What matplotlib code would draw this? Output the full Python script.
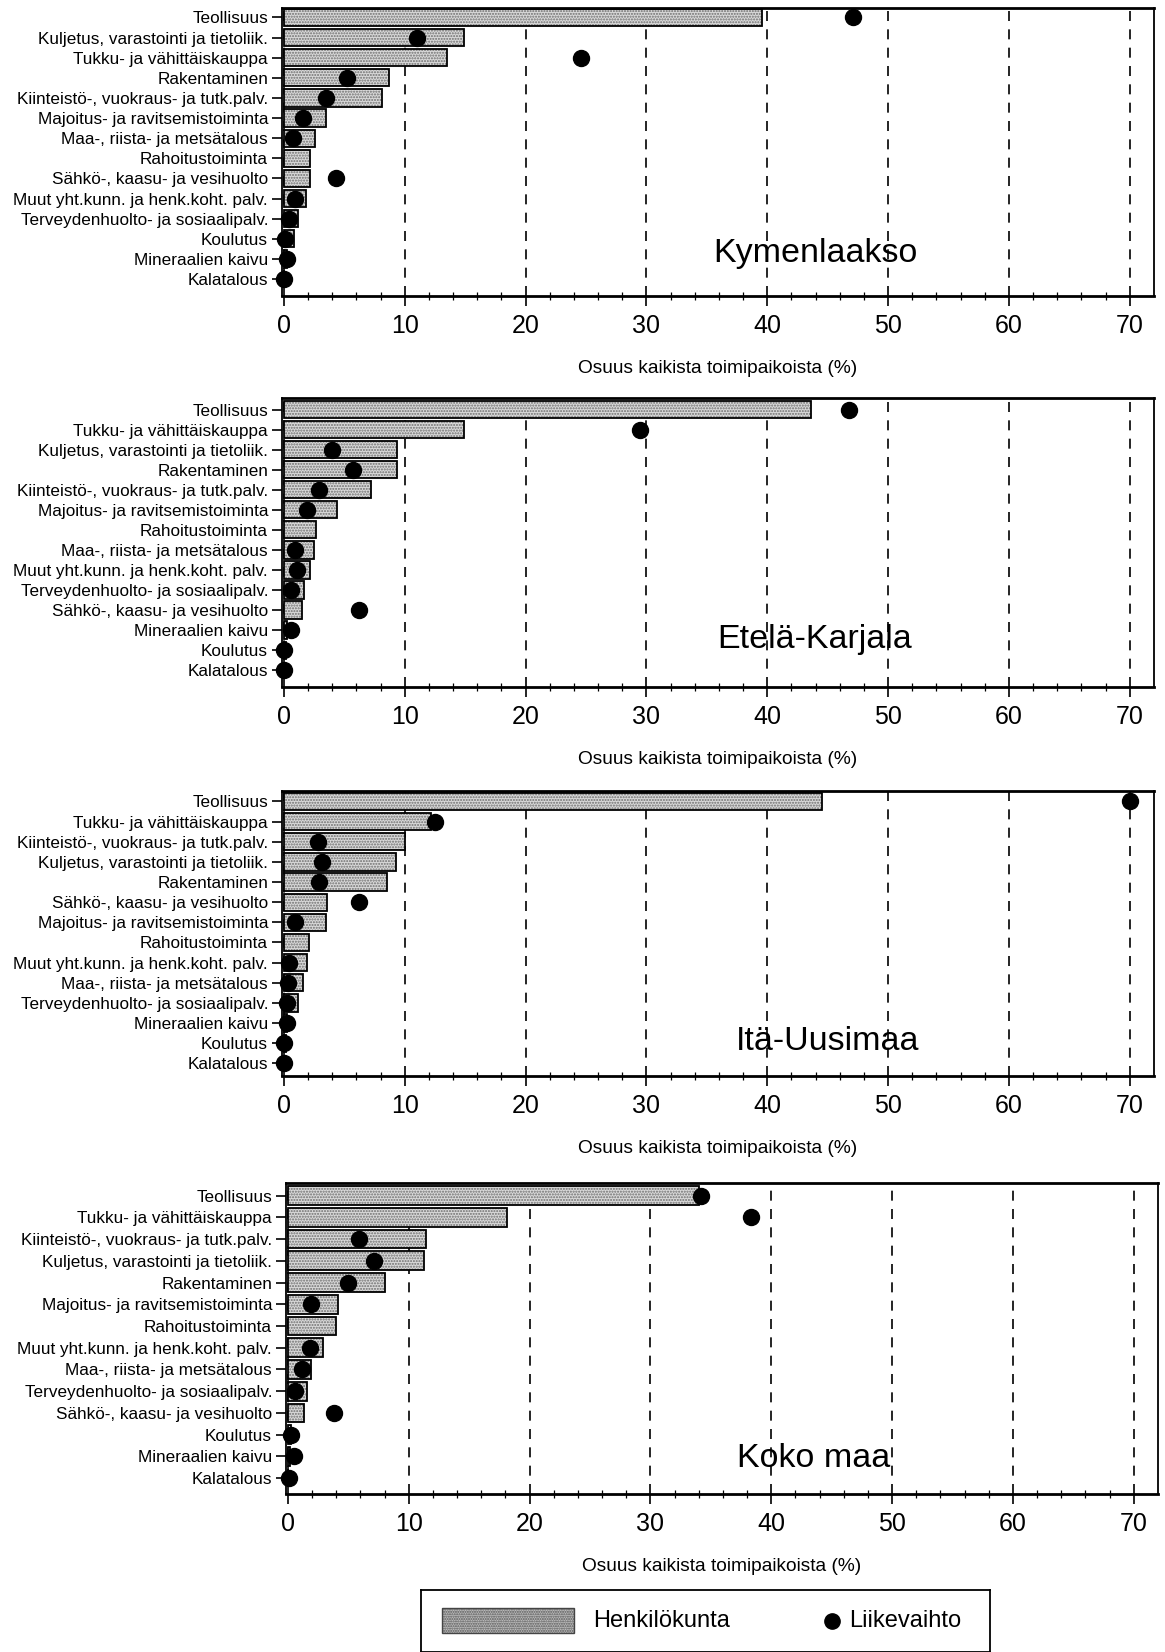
import matplotlib
matplotlib.use("Agg")
import matplotlib.pyplot as plt
import numpy as np
from matplotlib.patches import Rectangle

plt.rcParams['font.family'] = ['Liberation Sans', 'DejaVu Sans']

# --- data: share of all establishments (%) ---
# Henkilokunta = bar, Liikevaihto = dot (nan = not shown)
kymen_cats = ["Teollisuus", "Kuljetus, varastointi ja tietoliik.", "Tukku- ja vähittäiskauppa",
              "Rakentaminen", "Kiinteistö-, vuokraus- ja tutk.palv.", "Majoitus- ja ravitsemistoiminta",
              "Maa-, riista- ja metsätalous", "Rahoitustoiminta", "Sähkö-, kaasu- ja vesihuolto",
              "Muut yht.kunn. ja henk.koht. palv.", "Terveydenhuolto- ja sosiaalipalv.",
              "Koulutus", "Mineraalien kaivu", "Kalatalous"]
kymen_staff = [39.6, 14.9, 13.5, 8.7, 8.1, 3.5, 2.6, 2.2, 2.2, 1.8, 1.2, 0.85, 0.3, 0.05]
kymen_turn = [47.1, 11.0, 24.6, 5.2, 3.5, 1.6, 0.8, np.nan, 4.3, 0.9, 0.4, 0.1, 0.25, 0.05]

ekarj_cats = ["Teollisuus", "Tukku- ja vähittäiskauppa", "Kuljetus, varastointi ja tietoliik.",
              "Rakentaminen", "Kiinteistö-, vuokraus- ja tutk.palv.", "Majoitus- ja ravitsemistoiminta",
              "Rahoitustoiminta", "Maa-, riista- ja metsätalous", "Muut yht.kunn. ja henk.koht. palv.",
              "Terveydenhuolto- ja sosiaalipalv.", "Sähkö-, kaasu- ja vesihuolto",
              "Mineraalien kaivu", "Koulutus", "Kalatalous"]
ekarj_staff = [43.6, 14.9, 9.4, 9.4, 7.2, 4.4, 2.7, 2.5, 2.2, 1.65, 1.5, 0.3, 0.2, 0.05]
ekarj_turn = [46.8, 29.5, 4.0, 5.7, 2.9, 1.9, np.nan, 0.9, 1.05, 0.6, 6.2, 0.6, 0.05, 0.05]

itau_cats = ["Teollisuus", "Tukku- ja vähittäiskauppa", "Kiinteistö-, vuokraus- ja tutk.palv.",
             "Kuljetus, varastointi ja tietoliik.", "Rakentaminen", "Sähkö-, kaasu- ja vesihuolto",
             "Majoitus- ja ravitsemistoiminta", "Rahoitustoiminta", "Muut yht.kunn. ja henk.koht. palv.",
             "Maa-, riista- ja metsätalous", "Terveydenhuolto- ja sosiaalipalv.",
             "Mineraalien kaivu", "Koulutus", "Kalatalous"]
itau_staff = [44.5, 12.2, 10.0, 9.25, 8.5, 3.55, 3.5, 2.1, 1.9, 1.6, 1.2, 0.3, 0.2, 0.05]
itau_turn = [70.0, 12.5, 2.8, 3.15, 2.9, 6.2, 0.9, np.nan, 0.45, 0.35, 0.3, 0.25, 0.05, 0.05]

koko_cats = ["Teollisuus", "Tukku- ja vähittäiskauppa", "Kiinteistö-, vuokraus- ja tutk.palv.",
             "Kuljetus, varastointi ja tietoliik.", "Rakentaminen", "Majoitus- ja ravitsemistoiminta",
             "Rahoitustoiminta", "Muut yht.kunn. ja henk.koht. palv.", "Maa-, riista- ja metsätalous",
             "Terveydenhuolto- ja sosiaalipalv.", "Sähkö-, kaasu- ja vesihuolto",
             "Koulutus", "Mineraalien kaivu", "Kalatalous"]
koko_staff = [34.0, 18.1, 11.4, 11.3, 8.0, 4.15, 3.95, 2.9, 1.9, 1.6, 1.3, 0.3, 0.2, 0.05]
koko_turn = [34.2, 38.3, 5.9, 7.1, 5.0, 1.9, np.nan, 1.8, 1.15, 0.6, 3.8, 0.25, 0.5, 0.1]

regions = ["Kymenlaakso", "Etelä-Karjala", "Itä-Uusimaa", "Koko maa"]
xlabel = "Osuus kaikista toimipaikoista (%)"
xticks = [0, 10, 20, 30, 40, 50, 60, 70]

W, H = 1165, 1652
fig = plt.figure(figsize=(W / 100, H / 100), dpi=100)

# panel boxes in pixels: left, right, top, bottom ; ylim ; name position
panels = [
    (kymen_cats, kymen_staff, kymen_turn, (282, 1154, 8, 296), (13.84, -0.47), (44.0, 11.75)),
    (ekarj_cats, ekarj_staff, ekarj_turn, (282, 1154, 398, 687), (13.84, -0.58), (43.9, 11.47)),
    (itau_cats, itau_staff, itau_turn, (282, 1154, 791, 1076), (13.63, -0.52), (45.0, 11.9)),
    (koko_cats, koko_staff, koko_turn, (286, 1158, 1183, 1494), (13.73, -0.58), (43.5, 12.1)),
]

for (cats, staff, turn, box, ylim, namepos), name in zip(panels, regions):
    l, r, t, b = box
    ax = fig.add_axes([l / W, 1 - b / H, (r - l) / W, (b - t) / H])
    y = np.arange(len(cats))
    # stippled fill, then black outline
    ax.barh(y, staff, height=0.86, facecolor='#d9d9d9', edgecolor='#6e6e6e',
            hatch='......', linewidth=0, zorder=2)
    ax.barh(y, staff, height=0.86, fill=False, edgecolor='black', linewidth=1.3, zorder=2.5)
    ax.plot(turn, y, 'o', color='black', markersize=11.5, zorder=4, clip_on=False)

    ax.set_xlim(-0.15, 72)
    ax.set_ylim(*ylim)
    ax.set_yticks(y)
    ax.set_yticklabels(cats, fontsize=12.3)
    ax.set_xticks(xticks)
    ax.set_xticklabels([str(v) for v in xticks], fontsize=18)
    ax.set_xticks(np.arange(0, 72, 2), minor=True)
    ax.tick_params(axis='y', direction='out', length=7, width=1.2, pad=3)
    ax.tick_params(axis='x', which='major', direction='out', length=7, width=1.2, pad=6)
    ax.tick_params(axis='x', which='minor', direction='inout', length=6, width=0.9)
    ax.grid(axis='x', which='major', color='black', linestyle=(0, (6, 5)), linewidth=1.2)
    ax.set_axisbelow(True)
    for s in ax.spines.values():
        s.set_linewidth(1.3)
    ax.spines['top'].set_linewidth(2.0)
    ax.spines['bottom'].set_linewidth(2.0)
    ax.set_xlabel(xlabel, fontsize=13.8, labelpad=16)
    ax.text(namepos[0], namepos[1], name, ha='center', va='center', fontsize=24.5, zorder=5)

# legend box (bottom edge cut off by the page)
lax = fig.add_axes([421 / W, 0, (990 - 421) / W, (H - 1590) / H])
lax.set_xlim(421, 990)
lax.set_ylim(H, 1590)
lax.set_xticks([])
lax.set_yticks([])
for s in lax.spines.values():
    s.set_linewidth(1.3)
lax.add_patch(Rectangle((442, 1608), 132, 25, facecolor='#bdbdbd', edgecolor='#555555',
                        hatch='.......', linewidth=0))
lax.add_patch(Rectangle((442, 1608), 132, 25, fill=False, edgecolor='#444444', linewidth=1.0))
lax.text(593, 1621, "Henkilökunta", fontsize=17, va='center', ha='left')
lax.plot([832], [1621], 'o', color='black', markersize=11)
lax.text(849, 1621, "Liikevaihto", fontsize=17, va='center', ha='left')

fig.savefig("out.png", dpi=100)
